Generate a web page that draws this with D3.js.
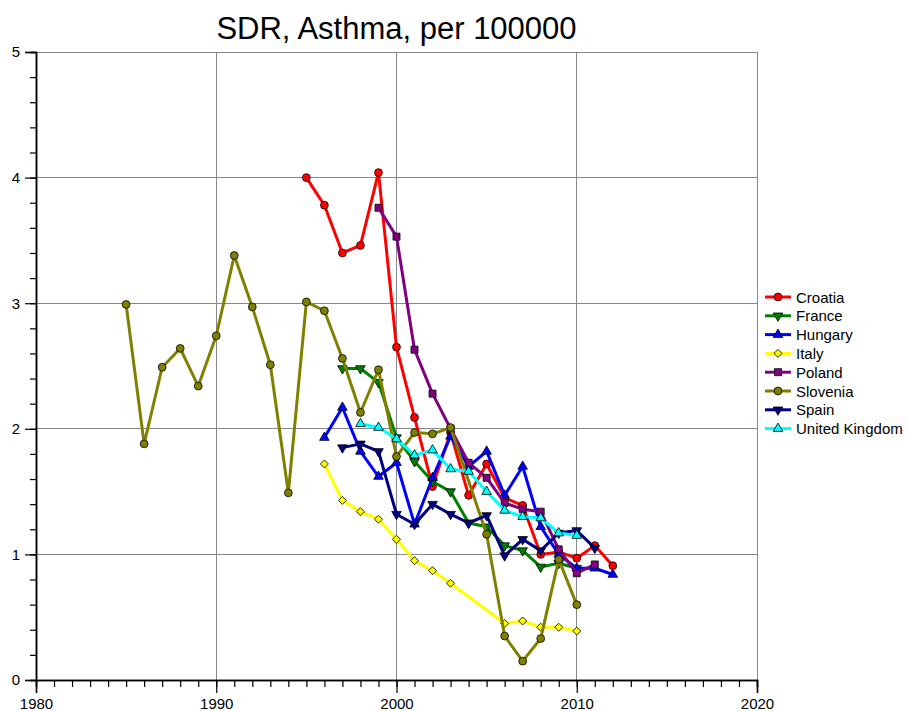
<!DOCTYPE html>
<html>
<head>
<meta charset="utf-8">
<script src="https://cdn.jsdelivr.net/npm/d3@7"></script>
<style>
  html, body { margin: 0; padding: 0; background: #fff; }
  svg { display: block; }
  text { font-family: "Liberation Sans", Arial, sans-serif; fill: #000; }
</style>
</head>
<body>
<svg id="chart" width="908" height="711"></svg>
<script>
// ---------------- DATA ----------------
const chartTitle = "SDR, Asthma, per 100000";
const xTicks = [1980, 1990, 2000, 2010, 2020];
const yTicks = [0, 1, 2, 3, 4, 5];

const croatiaYears  = [1995,1996,1997,1998,1999,2000,2001,2002,2003,2004,2005,2006,2007,2008,2009,2010,2011,2012];
const croatiaValues = [4.00,3.78,3.40,3.46,4.04,2.65,2.09,1.54,1.97,1.47,1.72,1.45,1.39,1.00,1.02,0.97,1.07,0.91];

const franceYears  = [1997,1998,1999,2000,2001,2002,2003,2004,2005,2006,2007,2008,2009,2010];
const franceValues = [2.48,2.48,2.37,1.93,1.74,1.58,1.50,1.25,1.22,1.07,1.03,0.90,0.93,0.89];

const hungaryYears  = [1996,1997,1998,1999,2000,2001,2002,2003,2004,2005,2006,2007,2008,2009,2010,2011,2012];
const hungaryValues = [1.93,2.17,1.82,1.62,1.73,1.24,1.61,1.94,1.70,1.82,1.47,1.70,1.22,1.00,0.89,0.89,0.84];

const italyYears  = [1996,1997,1998,1999,2000,2001,2002,2003,2006,2007,2008,2009,2010];
const italyValues = [1.72,1.43,1.34,1.28,1.12,0.95,0.87,0.77,0.45,0.47,0.42,0.42,0.39];

const polandYears  = [1999,2000,2001,2002,2003,2004,2005,2006,2007,2008,2009,2010,2011];
const polandValues = [3.76,3.53,2.63,2.28,2.00,1.73,1.61,1.41,1.36,1.34,1.04,0.85,0.92];

const sloveniaYears  = [1985,1986,1987,1988,1989,1990,1991,1992,1993,1994,1995,1996,1997,1998,1999,2000,2001,2002,2003,2005,2006,2007,2008,2009,2010];
const sloveniaValues = [2.99,1.88,2.49,2.64,2.34,2.74,3.38,2.97,2.51,1.49,3.01,2.94,2.56,2.13,2.47,1.78,1.97,1.96,2.01,1.16,0.35,0.15,0.33,0.96,0.60];

const spainYears  = [1997,1998,1999,2000,2001,2002,2003,2004,2005,2006,2007,2008,2009,2010,2011];
const spainValues = [1.85,1.88,1.82,1.32,1.24,1.40,1.32,1.25,1.31,0.99,1.12,1.03,1.17,1.19,1.05];

const ukYears  = [1998,1999,2000,2001,2002,2003,2004,2005,2006,2007,2008,2009,2010];
const ukValues = [2.04,2.01,1.92,1.79,1.83,1.68,1.66,1.50,1.35,1.30,1.29,1.17,1.15];

const seriesNames = ["Croatia","France","Hungary","Italy","Poland","Slovenia","Spain","United Kingdom"];
const seriesYears = [croatiaYears, franceYears, hungaryYears, italyYears, polandYears, sloveniaYears, spainYears, ukYears];
const seriesValues = [croatiaValues, franceValues, hungaryValues, italyValues, polandValues, sloveniaValues, spainValues, ukValues];

// ---------------- STYLE ----------------
const seriesColors = ["#ff0000","#008000","#0000ff","#ffff00","#800080","#808000","#000080","#00ffff"];
const seriesMarkers = ["circle","down","up","diamond","square","circle","down","up"];

const W = 908, H = 711;
const margin = {left: 36, right: 151, top: 52, bottom: 31};
const plotW = W - margin.left - margin.right;
const plotH = H - margin.top - margin.bottom;

const svg = d3.select("#chart");

const x = d3.scaleLinear().domain([1980, 2020]).range([margin.left, margin.left + plotW]);
const y = d3.scaleLinear().domain([0, 5]).range([margin.top + plotH, margin.top]);

// Title
svg.append("text")
  .attr("x", margin.left + plotW / 2)
  .attr("y", 39)
  .attr("text-anchor", "middle")
  .style("font-size", "31px")
  .text(chartTitle);

// Grid
const grid = svg.append("g").attr("class", "grid");
grid.selectAll("line.gx").data(xTicks.slice(1)).enter().append("line")
  .attr("x1", d => x(d)).attr("x2", d => x(d))
  .attr("y1", y(5)).attr("y2", y(0))
  .attr("stroke", "#888").attr("stroke-width", 1).attr("shape-rendering", "crispEdges");
grid.selectAll("line.gy").data(yTicks.slice(1)).enter().append("line")
  .attr("x1", x(1980)).attr("x2", x(2020))
  .attr("y1", d => y(d)).attr("y2", d => y(d))
  .attr("stroke", "#888").attr("stroke-width", 1).attr("shape-rendering", "crispEdges");

// Axes
const yMinor = d3.range(0, 5.001, 0.2).map(v => +v.toFixed(1));
const xMinor = d3.range(1980, 2021, 1);

const yAxisMinor = d3.axisLeft(y).tickValues(yMinor).tickSize(6).tickFormat("");
const yAxisMajor = d3.axisLeft(y).tickValues(yTicks).tickSize(11).tickPadding(5).tickFormat(d3.format("d"));
const xAxisMinor = d3.axisBottom(x).tickValues(xMinor).tickSize(7).tickFormat("");
const xAxisMajor = d3.axisBottom(x).tickValues(xTicks).tickSize(13).tickPadding(5).tickFormat(d3.format("d"));

function styleAxis(g) {
  g.select(".domain").attr("stroke", "#000").attr("stroke-width", 1.5);
  g.selectAll(".tick line").attr("stroke", "#000").attr("stroke-width", 1.2);
  g.selectAll(".tick text").style("font-size", "15px").style("font-family", "'Liberation Sans', Arial, sans-serif").attr("fill", "#000");
}
svg.append("g").attr("transform", `translate(${margin.left},0)`).call(yAxisMinor).call(styleAxis);
svg.append("g").attr("transform", `translate(${margin.left},0)`).call(yAxisMajor).call(styleAxis);
svg.append("g").attr("transform", `translate(0,${y(0)})`).call(xAxisMinor).call(styleAxis);
svg.append("g").attr("transform", `translate(0,${y(0)})`).call(xAxisMajor).call(styleAxis);

// Markers
function markerPath(type) {
  switch (type) {
    case "circle": return d3.symbol().type(d3.symbolCircle).size(48)();
    case "square": return d3.symbol().type(d3.symbolSquare).size(49)();
    case "diamond": return d3.symbol().type(d3.symbolSquare).size(32)();
    case "up":
    case "down": return d3.symbol().type(d3.symbolTriangle).size(40)();
  }
}
function markerRotate(type) {
  if (type === "down") return " rotate(180)";
  if (type === "diamond") return " rotate(45)";
  return "";
}

const line = d3.line().x(d => x(d[0])).y(d => y(d[1]));

const plot = svg.append("g").attr("class", "series");
seriesNames.forEach((name, i) => {
  const pts = seriesYears[i].map((yr, j) => [yr, seriesValues[i][j]]);
  const g = plot.append("g");
  g.append("path").datum(pts)
    .attr("d", line)
    .attr("fill", "none")
    .attr("stroke", seriesColors[i])
    .attr("stroke-width", 3)
    .attr("stroke-linejoin", "round");
  g.selectAll("path.m").data(pts).enter().append("path")
    .attr("class", "m")
    .attr("d", markerPath(seriesMarkers[i]))
    .attr("transform", d => `translate(${x(d[0])},${y(d[1])})${markerRotate(seriesMarkers[i])}`)
    .attr("fill", seriesColors[i])
    .attr("stroke", "#000")
    .attr("stroke-width", 0.8);
});

// Legend
const legend = svg.append("g").attr("transform", "translate(765,297)");
seriesNames.forEach((name, i) => {
  const gy = i * 18.8;
  const g = legend.append("g").attr("transform", `translate(0,${gy})`);
  g.append("line").attr("x1", 0).attr("x2", 26).attr("y1", 0).attr("y2", 0)
    .attr("stroke", seriesColors[i]).attr("stroke-width", 3);
  g.append("path").attr("d", markerPath(seriesMarkers[i]))
    .attr("transform", `translate(13,0)${markerRotate(seriesMarkers[i])}`)
    .attr("fill", seriesColors[i]).attr("stroke", "#000").attr("stroke-width", 0.8);
  g.append("text").attr("x", 31).attr("y", 5.5)
    .style("font-size", "15px")
    .text(name);
});
</script>
</body>
</html>
